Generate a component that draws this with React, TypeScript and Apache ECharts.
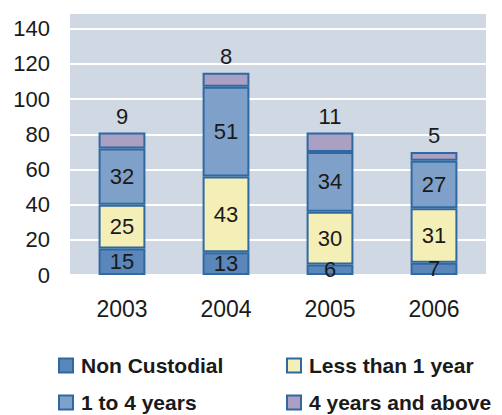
import React, { useEffect, useRef } from "react";
import * as echarts from "echarts";

const years = ["2003", "2004", "2005", "2006"];
const nonCustodial = [15, 13, 6, 7];
const lessThan1 = [25, 43, 30, 31];
const oneTo4 = [32, 51, 34, 27];
const fourAbove = [9, 8, 11, 5];
const seriesNames = ["Non Custodial", "Less than 1 year", "1 to 4 years", "4 years and above"];
const colors = ["#5a86b9", "#f4efb6", "#7fa0c8", "#a9a0c3"];

export default function App() {
  const ref = useRef<HTMLDivElement>(null);
  useEffect(() => {
    if (!ref.current) return;
    const chart = echarts.init(ref.current, null, { renderer: "svg" });
    const font = "'Liberation Sans', Arial, sans-serif";
    const datas = [nonCustodial, lessThan1, oneTo4, fourAbove];
    const series = datas.map((d, i) => ({
      name: seriesNames[i],
      type: "bar",
      stack: "total",
      data: d,
      barWidth: "45%",
      itemStyle: { color: colors[i], borderColor: "#2f69a3", borderWidth: 2 },
      label: {
        show: true,
        position: i === 3 ? "top" : "inside",
        distance: 5,
        color: "#1a1a1a",
        fontSize: 22,
        fontFamily: font,
      },
    }));
    const legendPos = [
      { left: 58, top: 355 },
      { left: 286, top: 355 },
      { left: 58, top: 392 },
      { left: 286, top: 392 },
    ];
    const legends = seriesNames.map((n, i) => ({
      data: [n],
      left: legendPos[i].left,
      top: legendPos[i].top,
      padding: 0,
      icon: "rect",
      itemWidth: 14,
      itemHeight: 14,
      itemGap: 0,
      textStyle: { fontSize: 21, fontWeight: "bold", color: "#1a1a1a", fontFamily: font, padding: [0, 0, 0, 3] },
    }));
    chart.setOption({
      animation: false,
      textStyle: { fontFamily: font },
      grid: {
        left: 70,
        right: 16,
        top: 13,
        bottom: 140,
        show: true,
        backgroundColor: "#cfd8e3",
        borderWidth: 0,
      },
      legend: legends,
      xAxis: {
        type: "category",
        data: years,
        axisLine: { show: false },
        axisTick: { show: false },
        axisLabel: { color: "#1a1a1a", fontSize: 23, margin: 22, fontFamily: font },
      },
      yAxis: {
        type: "value",
        min: 0,
        max: 149,
        interval: 20,
        axisLine: { show: false },
        axisTick: { show: false },
        splitLine: { lineStyle: { color: "#ffffff", width: 2 } },
        axisLabel: {
          color: "#1a1a1a",
          fontSize: 22,
          margin: 20,
          fontFamily: font,
          formatter: (v: number) => (v % 20 === 0 ? String(v) : ""),
        },
      },
      series,
    });
    return () => chart.dispose();
  }, []);
  return <div ref={ref} style={{ width: 502, height: 415, position: "absolute", left: 0, top: 0 }} />;
}
